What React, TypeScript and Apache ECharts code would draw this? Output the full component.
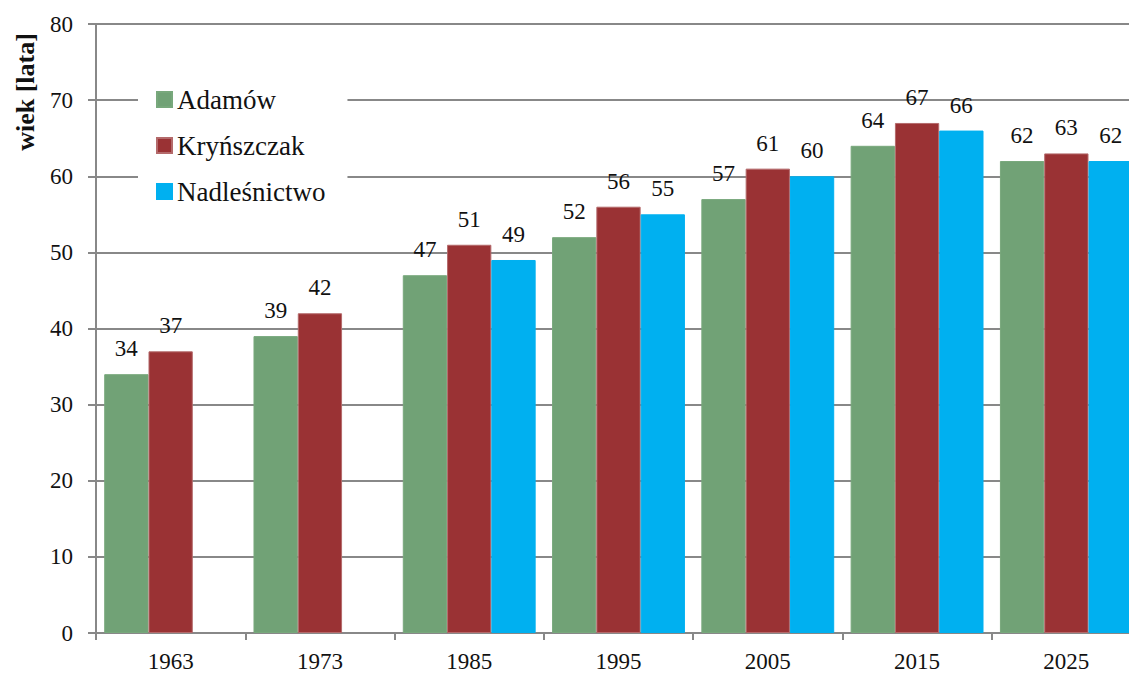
import React, { useEffect, useRef } from "react";
import * as echarts from "echarts";

const categories = ["1963", "1973", "1985", "1995", "2005", "2015", "2025"];
const adamow = [34, 39, 47, 52, 57, 64, 62];
const krynszczak = [37, 42, 51, 56, 61, 67, 63];
const nadlesnictwo = [null, null, 49, 55, 60, 66, 62];
const seriesNames = ["Adamów", "Kryńszczak", "Nadleśnictwo"];
const colors = ["#71A276", "#9A3234", "#00B0F0"];
const borders = ["#78A87C", "#B46A6B", "#00B0F0"];
const yTicks = { min: 0, max: 80, interval: 10 };
const yName = "wiek [lata]";

const FONT = "Liberation Serif";

export default function App() {
  const ref = useRef<HTMLDivElement>(null);
  useEffect(() => {
    const chart = echarts.init(ref.current!, null, { renderer: "svg" });
    const mk = (i: number, data: (number | null)[]) => ({
      name: seriesNames[i],
      type: "bar",
      data,
      barGap: "0%",
      barCategoryGap: "11%",
      itemStyle: { color: colors[i], borderColor: borders[i], borderWidth: 1 },
      label: {
        show: true,
        position: "top",
        distance: 14,
        color: "#111111",
        fontFamily: FONT,
        fontSize: 23,
      },
    });
    chart.setOption({
      animation: false,
      textStyle: { fontFamily: FONT },
      grid: {
        left: 96,
        width: 1045,
        top: 24,
        bottom: 40,
        containLabel: false,
        outerBoundsMode: "none",
      },
      legend: {
        orient: "vertical",
        left: 138,
        top: 76,
        backgroundColor: "#ffffff",
        padding: [10, 22, 12, 18],
        itemWidth: 15,
        itemHeight: 15,
        itemGap: 19,
        icon: "rect",
        textStyle: { fontFamily: FONT, fontSize: 27, color: "#111111" },
        data: seriesNames,
      },
      graphic: [
        {
          type: "text",
          x: 25,
          y: 92,
          rotation: Math.PI / 2,
          style: {
            text: yName,
            fontFamily: FONT,
            fontWeight: "bold",
            fontSize: 26,
            fill: "#111",
            align: "center",
            verticalAlign: "middle",
          },
        },
      ],
      xAxis: {
        type: "category",
        data: categories,
        axisLine: { lineStyle: { color: "#888", width: 2 } },
        axisTick: { show: true, length: 7, lineStyle: { color: "#888", width: 2 } },
        axisLabel: { color: "#111111", fontFamily: FONT, fontSize: 23, margin: 17 },
      },
      yAxis: {
        type: "value",
        min: yTicks.min,
        max: yTicks.max,
        interval: yTicks.interval,
        axisLine: { show: true, lineStyle: { color: "#888", width: 2 } },
        axisTick: { show: true, length: 8, lineStyle: { color: "#888", width: 2 } },
        splitLine: { lineStyle: { color: "#888", width: 2 } },
        axisLabel: { color: "#111111", fontFamily: FONT, fontSize: 23, margin: 23 },
      },
      series: [mk(0, adamow), mk(1, krynszczak), mk(2, nadlesnictwo)],
    });
    return () => chart.dispose();
  }, []);
  return (
    <div
      ref={ref}
      style={{ position: "fixed", left: 0, top: 0, width: 1129, height: 673, background: "#fff" }}
    />
  );
}
